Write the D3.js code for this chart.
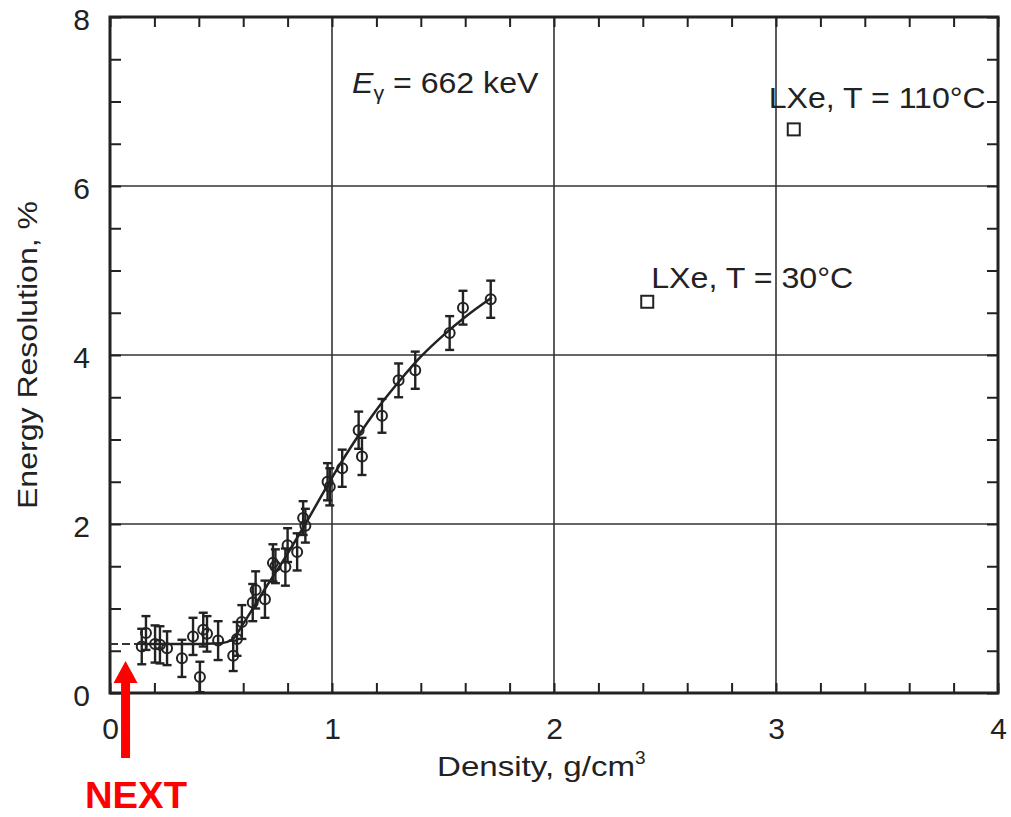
<!DOCTYPE html>
<html>
<head>
<meta charset="utf-8">
<script src="https://cdn.jsdelivr.net/npm/d3@7"></script>
<style>
  body { margin: 0; background: #fff; }
  text { font-family: "Liberation Sans", Arial, sans-serif; fill: #222; }
</style>
</head>
<body>
<svg width="1011" height="817"></svg>
<script>
// measured points: density (g/cm3), energy resolution (%), error bar half-height
const density = [0.143, 0.162, 0.203, 0.225, 0.257, 0.324, 0.374, 0.405, 0.42, 0.437,
    0.487, 0.555, 0.572, 0.594, 0.643, 0.656, 0.698, 0.734, 0.745, 0.79, 0.80, 0.843,
    0.87, 0.88, 0.98, 0.99, 1.046, 1.12, 1.135, 1.225, 1.30, 1.375, 1.53, 1.59, 1.715];
const resolution = [0.55, 0.71, 0.58, 0.57, 0.53, 0.41, 0.67, 0.19, 0.75, 0.70,
    0.62, 0.44, 0.64, 0.84, 1.07, 1.22, 1.11, 1.54, 1.50, 1.49, 1.75, 1.67,
    2.07, 1.98, 2.50, 2.44, 2.66, 3.11, 2.80, 3.28, 3.70, 3.82, 4.26, 4.56, 4.66];
const errors = [0.21, 0.2, 0.22, 0.22, 0.2, 0.22, 0.22, 0.18, 0.2, 0.21,
    0.23, 0.18, 0.2, 0.2, 0.22, 0.22, 0.22, 0.22, 0.2, 0.22, 0.2, 0.22,
    0.2, 0.2, 0.22, 0.22, 0.22, 0.22, 0.22, 0.2, 0.2, 0.22, 0.2, 0.2, 0.22];

// fitted curve
const fitX = [0.14, 0.3, 0.5, 0.55, 0.6, 0.7, 0.8, 0.88, 1.0, 1.12, 1.2, 1.3, 1.4, 1.5, 1.6, 1.72];
const fitY = [0.58, 0.58, 0.59, 0.63, 0.82, 1.24, 1.65, 2.0, 2.55, 3.05, 3.35, 3.68, 3.98, 4.23, 4.45, 4.68];
const extX = [0.0, 0.14];
const extY = [0.58, 0.58];

// liquid xenon reference points
const lxeDensity = [2.42, 3.08];
const lxeRes = [4.63, 6.67];
const lxeLabels = ["LXe, T = 30\u00B0C", "LXe, T = 110\u00B0C"];

const xTicks = [0, 1, 2, 3, 4];
const yTicks = [0, 2, 4, 6, 8];

let svg = d3.select("svg");

let x = d3.scaleLinear().domain([0, 4]).range([110, 998]);
let y = d3.scaleLinear().domain([0, 8]).range([693, 17]);

// grid lines
let grid = svg.append("g").attr("stroke", "#333").attr("stroke-width", 1.6);
grid.selectAll(".gx").data([1, 2, 3]).enter().append("line")
    .attr("x1", (d) => x(d)).attr("x2", (d) => x(d))
    .attr("y1", y(8)).attr("y2", y(0));
grid.selectAll(".gy").data([2, 4, 6]).enter().append("line")
    .attr("x1", x(0)).attr("x2", x(4))
    .attr("y1", (d) => y(d)).attr("y2", (d) => y(d));

// minor ticks on all four sides, pointing inward
let xMinor = d3.range(0, 4.001, 0.2);
let yMinor = d3.range(0, 8.001, 0.5);
function tickStyle(g) {
    g.select(".domain").remove();
    g.selectAll(".tick line").attr("stroke", "#222").attr("stroke-width", 2);
}
svg.append("g").attr("transform", `translate(0,${y(0)})`)
    .call(d3.axisBottom(x).tickValues(xMinor).tickSize(-10).tickFormat(""))
    .call(tickStyle);
svg.append("g").attr("transform", `translate(0,${y(8)})`)
    .call(d3.axisTop(x).tickValues(xMinor).tickSize(-10).tickFormat(""))
    .call(tickStyle);
svg.append("g").attr("transform", `translate(${x(0)},0)`)
    .call(d3.axisLeft(y).tickValues(yMinor).tickSize(-11).tickFormat(""))
    .call(tickStyle);
svg.append("g").attr("transform", `translate(${x(4)},0)`)
    .call(d3.axisRight(y).tickValues(yMinor).tickSize(-11).tickFormat(""))
    .call(tickStyle);

// tick labels
let xAxis = svg.append("g").attr("transform", `translate(0,${y(0)})`)
    .call(d3.axisBottom(x).tickValues(xTicks).tickSize(0).tickPadding(25).tickFormat(d3.format("d")));
xAxis.select(".domain").remove();
xAxis.selectAll("text").attr("font-size", 30).attr("font-family", "Liberation Sans").attr("fill", "#222");

let yAxis = svg.append("g").attr("transform", `translate(${x(0)},0)`)
    .call(d3.axisLeft(y).tickValues(yTicks).tickSize(0).tickPadding(20).tickFormat(d3.format("d")));
yAxis.select(".domain").remove();
yAxis.selectAll("text").attr("font-size", 30).attr("font-family", "Liberation Sans").attr("fill", "#222")
    .attr("dy", "0.4em");

// frame
svg.append("rect")
    .attr("x", x(0)).attr("y", y(8))
    .attr("width", x(4) - x(0)).attr("height", y(0) - y(8))
    .attr("fill", "none").attr("stroke", "#222").attr("stroke-width", 3);

// fitted curve
let line = d3.line().x((d) => x(d[0])).y((d) => y(d[1])).curve(d3.curveMonotoneX);
svg.append("path")
    .datum(d3.zip(fitX, fitY))
    .attr("d", line)
    .attr("fill", "none").attr("stroke", "#222").attr("stroke-width", 2.5);
svg.append("path")
    .datum(d3.zip(extX, extY))
    .attr("d", line)
    .attr("fill", "none").attr("stroke", "#333").attr("stroke-width", 1.8)
    .attr("stroke-dasharray", "8,4");

// error bars
let points = d3.range(density.length).map((i) => ({ x: density[i], y: resolution[i], e: errors[i] }));
let bars = svg.append("g").attr("stroke", "#222").attr("stroke-width", 2.4);
bars.selectAll(".v").data(points).enter().append("line")
    .attr("x1", (d) => x(d.x)).attr("x2", (d) => x(d.x))
    .attr("y1", (d) => y(d.y - d.e)).attr("y2", (d) => y(d.y + d.e));
bars.selectAll(".top").data(points).enter().append("line")
    .attr("x1", (d) => x(d.x) - 4.5).attr("x2", (d) => x(d.x) + 4.5)
    .attr("y1", (d) => y(d.y + d.e)).attr("y2", (d) => y(d.y + d.e));
bars.selectAll(".bot").data(points).enter().append("line")
    .attr("x1", (d) => x(d.x) - 4.5).attr("x2", (d) => x(d.x) + 4.5)
    .attr("y1", (d) => y(d.y - d.e)).attr("y2", (d) => y(d.y - d.e));

// open circles
svg.append("g").selectAll("circle").data(points).enter().append("circle")
    .attr("cx", (d) => x(d.x)).attr("cy", (d) => y(d.y))
    .attr("r", 5)
    .attr("fill", "none").attr("stroke", "#222").attr("stroke-width", 2);

// LXe squares and labels
let lxe = d3.range(lxeDensity.length).map((i) => ({ x: lxeDensity[i], y: lxeRes[i], label: lxeLabels[i] }));
svg.append("g").selectAll("rect").data(lxe).enter().append("rect")
    .attr("x", (d) => x(d.x) - 6).attr("y", (d) => y(d.y) - 6)
    .attr("width", 12).attr("height", 12)
    .attr("fill", "#fff").attr("stroke", "#222").attr("stroke-width", 2);
let labelOffset = [[4, -14], [-25, -21]];
let labelWidth = [202, 217];
svg.append("g").selectAll("text").data(lxe).enter().append("text")
    .attr("x", (d, i) => x(d.x) + labelOffset[i][0])
    .attr("y", (d, i) => y(d.y) + labelOffset[i][1])
    .attr("font-size", 30)
    .attr("textLength", (d, i) => labelWidth[i]).attr("lengthAdjust", "spacingAndGlyphs")
    .text((d) => d.label);

// energy annotation
let eg = svg.append("text").attr("font-size", 30)
    .attr("transform", "translate(352,93) scale(1.07,1)");
eg.append("tspan").attr("font-style", "italic").text("E");
eg.append("tspan").attr("font-size", 20).attr("dy", 7).text("\u03B3");
eg.append("tspan").attr("dy", -7).text(" = 662 keV");

// axis titles
let xt = svg.append("text")
    .attr("x", 437).attr("y", 776)
    .attr("font-size", 28);
xt.append("tspan").attr("textLength", 198).attr("lengthAdjust", "spacingAndGlyphs").text("Density, g/cm");
xt.append("tspan").attr("font-size", 19).attr("dy", -12).text("3");

svg.append("text")
    .attr("transform", `translate(37,${y(4)}) rotate(-90)`)
    .attr("text-anchor", "middle")
    .attr("font-size", 28)
    .attr("textLength", 308).attr("lengthAdjust", "spacingAndGlyphs")
    .text("Energy Resolution, %");

// red NEXT marker
let ax = x(0.07);
let arrow = d3.path();
arrow.moveTo(ax, y(0.38));
arrow.lineTo(ax + 12, y(0.38) + 22);
arrow.lineTo(ax + 4.5, y(0.38) + 22);
arrow.lineTo(ax + 4.5, y(0) + 65);
arrow.lineTo(ax - 4.5, y(0) + 65);
arrow.lineTo(ax - 4.5, y(0.38) + 22);
arrow.lineTo(ax - 12, y(0.38) + 22);
arrow.closePath();
svg.append("path").attr("d", arrow.toString()).attr("fill", "#ff0000");

svg.append("text")
    .attr("x", 85).attr("y", 808)
    .attr("font-size", 37).attr("font-weight", "bold")
    .attr("textLength", 102).attr("lengthAdjust", "spacingAndGlyphs")
    .style("fill", "#ff0000")
    .text("NEXT");
</script>
</body>
</html>
